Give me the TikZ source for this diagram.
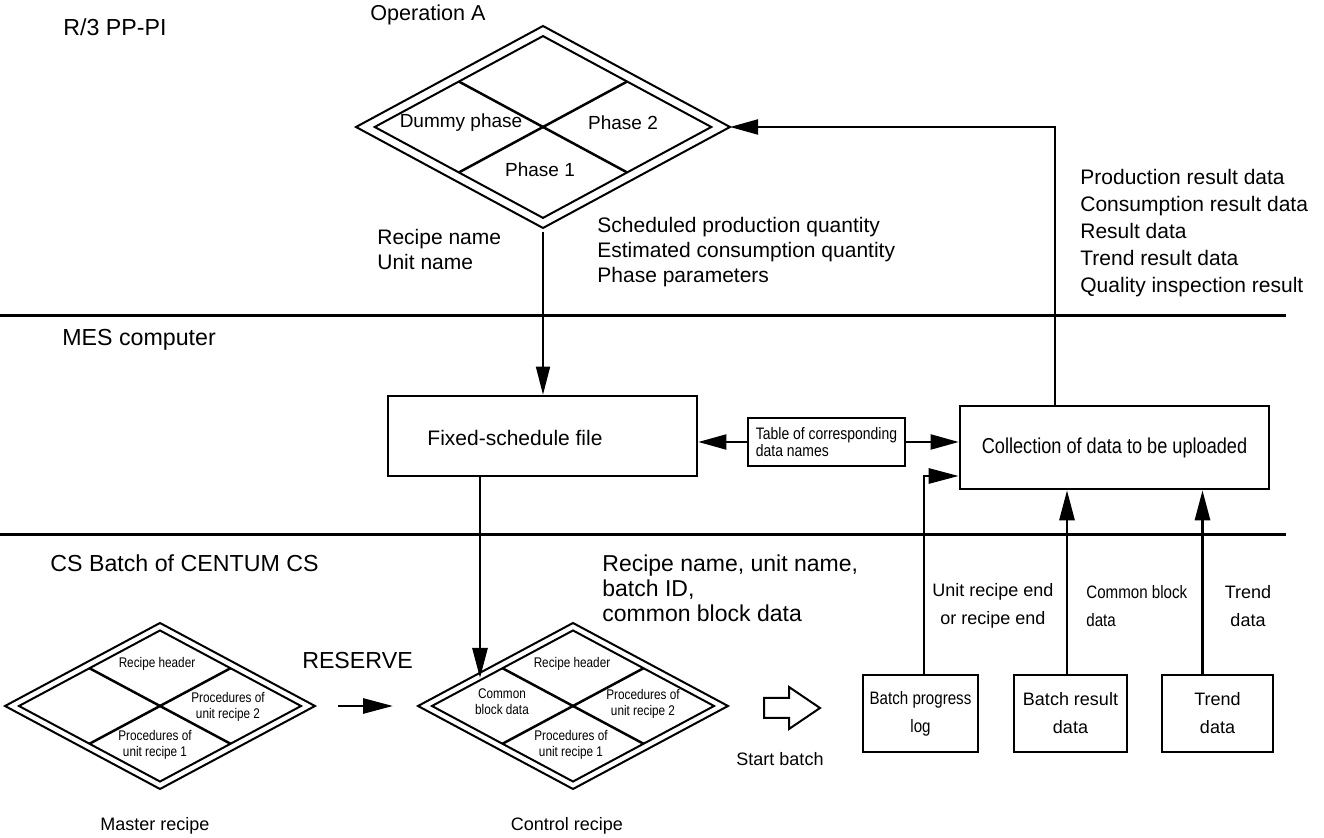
\documentclass[tikz,border=0pt]{standalone}
\usepackage{fontspec}
\setmainfont{Liberation Sans}
\newfontfamily\narrowsf[FakeStretch=0.84]{Liberation Sans}
\usetikzlibrary{arrows.meta,calc}

% Double-outlined recipe rhombus split into four quadrants.
% #1 half width, #2 half height, #3 inner outline ratio
\tikzset{
  pics/recipe/.style n args={3}{code={
    \draw[dline] (-#1,0) -- (0,-#2) -- (#1,0) -- (0,#2) -- cycle;
    \draw[dline] ({-#3*#1},0) -- (0,{-#3*#2}) -- ({#3*#1},0) -- (0,{#3*#2}) -- cycle;
    \draw[xline] ({-#3*#1/2},{-#3*#2/2}) -- ({#3*#1/2},{#3*#2/2});
    \draw[xline] ({-#3*#1/2},{#3*#2/2}) -- ({#3*#1/2},{-#3*#2/2});
    \coordinate (-left) at (-#1,0);
    \coordinate (-right) at (#1,0);
    \coordinate (-top) at (0,-#2);
    \coordinate (-bottom) at (0,#2);
  }}
}

\begin{document}
\begin{tikzpicture}[x=0.5pt,y=-0.5pt,
  divider/.style={line width=1.5pt},
  dline/.style={line width=1pt},
  xline/.style={line width=1.25pt},
  boxst/.style={draw,line width=1.3pt,inner sep=0pt},
  arr/.style={line width=1pt,-{Triangle[length=14pt,width=7.5pt]}},
  thinarr/.style={line width=0.8pt,-{Triangle[length=14pt,width=7pt]}},
  heavyarr/.style={line width=1.4pt,-{Triangle[length=15pt,width=7.5pt]}},
  title/.style={font=\fontsize{11.6}{13}\selectfont,inner sep=0pt,anchor=west},
  big/.style={font=\fontsize{10.5}{12.5}\selectfont,inner sep=0pt,align=left},
  mid/.style={font=\fontsize{9.5}{12}\selectfont,inner sep=0pt,align=center},
  small/.style={font=\fontsize{9}{14}\selectfont,inner sep=0pt,align=center},
  narrow/.style={font=\narrowsf\fontsize{9}{14}\selectfont,inner sep=0pt,align=center},
  tiny/.style={font=\narrowsf\fontsize{7}{8}\selectfont,inner sep=0pt,align=center},
]
\useasboundingbox (0,0) rectangle (1324,838);

% layer dividers
\draw[divider] (0,316) -- (1286,316);
\draw[divider] (0,535) -- (1286,535);

% layer titles
\node[title] (t1) at (63,27) {R/3 PP-PI};
\node[title] (t2) at (62,340) {MES computer};
\node[title] (t3) at (50,563) {CS Batch of CENTUM CS};

% operation rhombus
\node[big,anchor=west,font=\fontsize{10.8}{12.5}\selectfont] (opname) at (370,15) {Operation A};
\pic (op) at (543,127) {recipe={187}{101}{0.9}};
\node[mid] (dummy) at (461,123) {Dummy phase};
\node[mid] (ph2) at (623,123) {Phase 2};
\node[mid] (ph1) at (540,170) {Phase 1};

% download data
\node[big,anchor=west] (dl1) at (377,249.5) {Recipe name\\Unit name};
\node[big,anchor=west] (dl2) at (597,252) {Scheduled production quantity\\Estimated consumption quantity\\Phase parameters};

% upload data
\node[big,anchor=west,font=\fontsize{10.5}{13.5}\selectfont] (ul) at (1080,233.5) {Production result data\\Consumption result data\\Result data\\Trend result data\\Quality inspection result};

% MES boxes
\node[boxst,minimum width=154.5pt,minimum height=40pt] (fixed) at (542.5,436) {};
\node[big,anchor=center] (fixedtxt) at (515,438) {Fixed-schedule file};
\node[boxst,minimum width=78.5pt,minimum height=24pt,
      font=\narrowsf\fontsize{8.3}{8.5}\selectfont,align=left] (tbl) at (826.5,442)
      {Table of corresponding\\data names};
\node[boxst,minimum width=154.5pt,minimum height=41.5pt,
      font=\narrowsf\fontsize{10.8}{12.5}\selectfont] (coll) at (1114.5,447.5)
      {Collection of data to be uploaded};

\draw[arr] (tbl.west) -- (fixed.east |- tbl.west);
\draw[arr] (tbl.east) -- (coll.west |- tbl.east);
\draw[thinarr] ([yshift=-2pt]op-bottom) -- (op-bottom |- fixed.north);
\draw[arr] ([xshift=48pt]coll.north west) |- (op-right);

% CS Batch
\pic (mr) at (160,706) {recipe={155}{83}{0.91}};
\node[tiny] (mrhd) at (157,664) {Recipe header};
\node[tiny] (mrp2) at (228,707) {Procedures of\\unit recipe 2};
\node[tiny] (mrp1) at (155,745) {Procedures of\\unit recipe 1};
\node[small] (mrname) at (155,826) {Master recipe};

\pic (cr) at (573,706) {recipe={155}{83}{0.91}};
\node[tiny] (crhd) at (572,664) {Recipe header};
\node[tiny] (crcb) at (502,702) {Common\\block data};
\node[tiny] (crp2) at (643,704) {Procedures of\\unit recipe 2};
\node[tiny] (crp1) at (571,745) {Procedures of\\unit recipe 1};
\node[small] (crname) at (567,826) {Control recipe};

\node[big,anchor=center,font=\fontsize{11.6}{13}\selectfont] (reserve) at (357.5,661) {RESERVE};
\draw[heavyarr,shorten <=11.5pt,shorten >=12.5pt] (mr-right) -- (cr-left);

\coordinate (crin) at (480,678);
\draw[heavyarr] (fixed.south -| crin) -- (crin);

\node[big,anchor=west,font=\fontsize{11.5}{12.5}\selectfont] (crdata) at (602,588)
  {Recipe name, unit name,\\batch ID,\\common block data};

% start batch block arrow
\draw[line width=1pt] (764,698) -- (789,698) -- (789,687) -- (820,708)
  -- (789,729) -- (789,718) -- (764,718) -- cycle;
\node[small] (start) at (780,759) {Start batch};

% event sources
\node[boxst,minimum width=57.5pt,minimum height=38.5pt,
      font=\narrowsf\fontsize{9}{14}\selectfont,align=center] (bpl) at (920.5,713.5)
      {Batch progress\\log};
\node[boxst,minimum width=56.5pt,minimum height=38.5pt,
      font=\fontsize{9}{14}\selectfont,align=center] (brd) at (1070.5,713.5)
      {Batch result\\data};
\node[boxst,minimum width=55.5pt,minimum height=38.5pt,
      font=\fontsize{9}{14}\selectfont,align=center] (trd) at (1217.5,713.5)
      {Trend\\data};

\coordinate (collin) at ([yshift=-14.25pt]coll.west);
\draw[heavyarr] ([xshift=1.75pt]bpl.north) |- (collin);
\draw[heavyarr] ([xshift=-1.75pt]brd.north) -- ([xshift=-1.75pt]brd.north |- coll.south);
\draw[heavyarr] ([xshift=-7.5pt]trd.north) -- ([xshift=-7.5pt]trd.north |- coll.south);

\node[small] (lb1) at (993,606) {Unit recipe end\\or recipe end};
\node[narrow,anchor=west,align=left] (lb2) at (1086,606) {Common block\\data};
\node[small] (lb3) at (1248,606) {Trend\\data};
\end{tikzpicture}
\end{document}
